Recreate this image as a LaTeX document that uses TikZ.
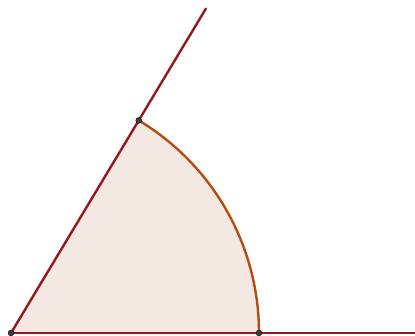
\documentclass[tikz,border=0pt]{standalone}
\definecolor{RayRed}   {RGB}{150,24,30}
\definecolor{ArcBrown} {RGB}{178,78,18}
\definecolor{SectorFill}{RGB}{244,232,226}
\definecolor{PointGray}{RGB}{60,60,60}
\usetikzlibrary{calc}
\tikzset{
  pt/.style={circle,fill=PointGray,draw=black,line width=0.3pt,inner sep=0pt,minimum size=6pt},
  side/.style={RayRed,line width=2.4pt},
}
\begin{document}
\begin{tikzpicture}[x=1pt,y=1pt]
  % Canvas 415 x 336
  \useasboundingbox (0,0) rectangle (415,336);
  % Vertex and points on the sides
  \coordinate (O) at (11,3);
  \coordinate (C) at (259,3);
  \coordinate (B) at ($(O)+(59:248)$);
  \coordinate (T) at ($(O)+(59:379)$);
  \coordinate (E) at (415,3);
  % Sector
  \fill[SectorFill] (O) -- (C) arc[start angle=0,end angle=59,radius=248] -- cycle;
  \draw[ArcBrown,line width=2.4pt] (C) arc[start angle=0,end angle=59,radius=248];
  % Sides of the angle
  \draw[side] (O) -- (E);
  \draw[side] (O) -- (T);
  % Points
  \node[pt] (o) at (O) {};
  \node[pt] (b) at (B) {};
  \node[pt] (c) at (C) {};
\end{tikzpicture}
\end{document}
